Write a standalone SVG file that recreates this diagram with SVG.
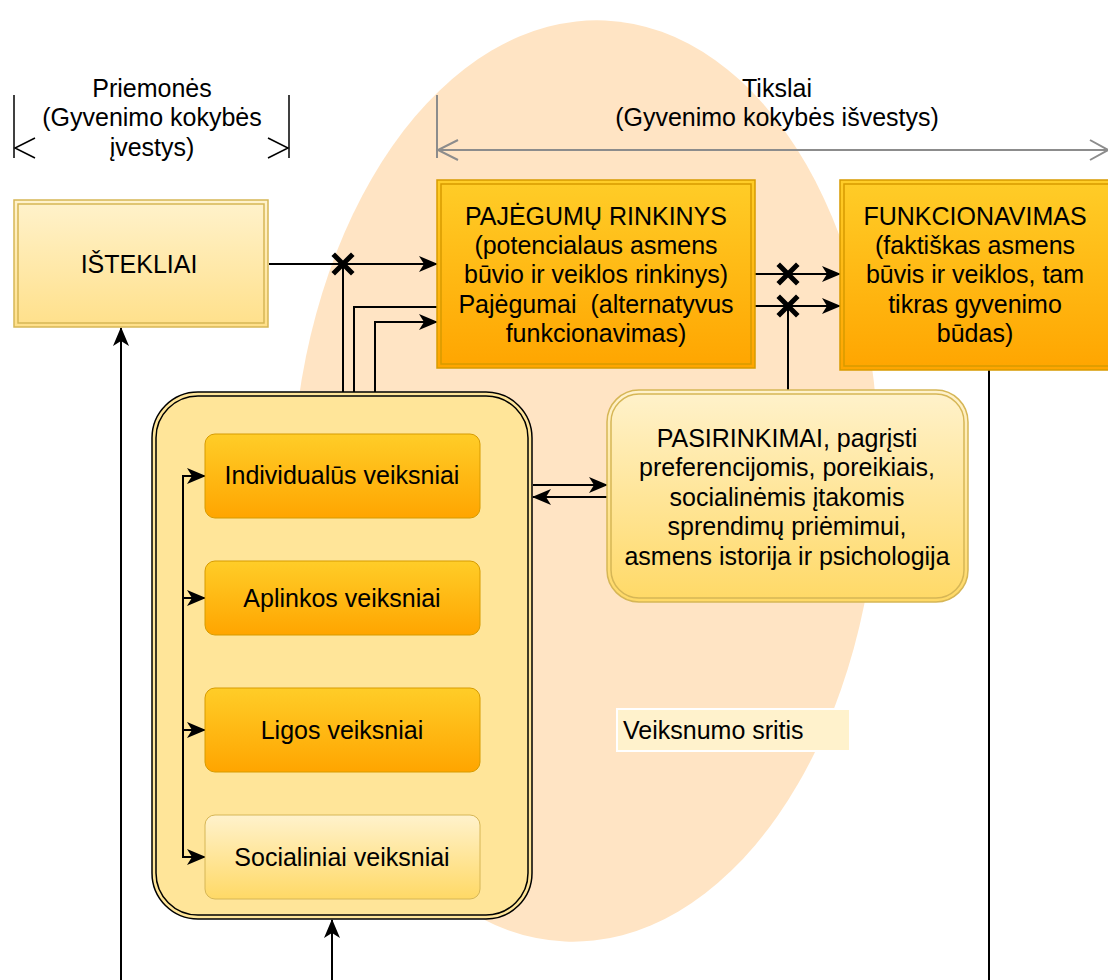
<svg xmlns="http://www.w3.org/2000/svg" width="1108" height="980" viewBox="0 0 1108 980">
<style>
text{font-family:"Liberation Sans",Arial,sans-serif;font-size:25px;fill:#000;}
.c{text-anchor:middle;}
.ln{fill:none;stroke:#000;stroke-width:2;}
.x{fill:none;stroke:#000;stroke-width:5;stroke-linecap:square;}
.gy{fill:none;stroke:#8c8c8c;stroke-width:2;}
.bk{fill:none;stroke:#000;stroke-width:1.5;}
</style>
<defs>
<linearGradient id="gOr" x1="0" y1="0" x2="0" y2="1"><stop offset="0" stop-color="#FFCD28"/><stop offset="1" stop-color="#FFA500"/></linearGradient>
<linearGradient id="gYe" x1="0" y1="0" x2="0" y2="1"><stop offset="0" stop-color="#FFF2CC"/><stop offset="1" stop-color="#FFD966"/></linearGradient>
<linearGradient id="gYe2" x1="0" y1="0" x2="0" y2="1"><stop offset="0" stop-color="#FFF2CC"/><stop offset="1" stop-color="#FFE08A"/></linearGradient>
<marker id="arr" markerUnits="userSpaceOnUse" markerWidth="20" markerHeight="16" refX="18" refY="8" orient="auto"><path d="M0,0 L19,8 L0,16 L5,8 Z" fill="#000"/></marker>
</defs>
<rect width="1108" height="980" fill="#fff"/>
<g id="area">
<ellipse cx="585" cy="481" rx="293" ry="461" fill="#FFE4C4" transform="rotate(2.5 585 481)"/>
</g>
<g id="dim-means">
<line x1="14" y1="95" x2="14" y2="158" class="bk"/>
<line x1="289" y1="95" x2="289" y2="158" class="bk"/>
<path d="M35,138 L15,148 L35,158" class="bk"/>
<path d="M268,138 L288,148 L268,158" class="bk"/>
<text x="152" y="97" class="c">Priemonės</text>
<text x="152" y="126" class="c">(Gyvenimo kokybės</text>
<text x="152" y="156" class="c">įvestys)</text>
</g>
<g id="dim-goals">
<line x1="437" y1="95" x2="437" y2="158" class="gy"/>
<line x1="437" y1="150" x2="1108" y2="150" class="gy"/>
<path d="M458,140 L438,150 L458,160" class="gy"/>
<path d="M1090,140 L1108,150 L1090,160" class="gy"/>
<text x="777" y="97" class="c">Tikslai</text>
<text x="777" y="126" class="c">(Gyvenimo kokybės išvestys)</text>
</g>
<g id="connectors">
<line x1="269" y1="264" x2="437" y2="264" class="ln" marker-end="url(#arr)"/>
<line x1="343" y1="392" x2="343" y2="264" class="ln"/>
<polyline points="354,392 354,307 437,307" class="ln"/>
<polyline points="375,392 375,322 437,322" class="ln" marker-end="url(#arr)"/>
<line x1="755" y1="274" x2="840" y2="274" class="ln" marker-end="url(#arr)"/>
<line x1="755" y1="306" x2="840" y2="306" class="ln" marker-end="url(#arr)"/>
<line x1="788" y1="390" x2="788" y2="306" class="ln"/>
<line x1="533" y1="485" x2="607" y2="485" class="ln" marker-end="url(#arr)"/>
<line x1="607" y1="497" x2="533" y2="497" class="ln" marker-end="url(#arr)"/>
<line x1="121" y1="980" x2="121" y2="328" class="ln" marker-end="url(#arr)"/>
<line x1="332" y1="980" x2="332" y2="920" class="ln" marker-end="url(#arr)"/>
<line x1="989" y1="370" x2="989" y2="980" class="ln"/>
<path d="M335,256 L351,272 M351,256 L335,272" class="x"/>
<path d="M780,266 L796,282 M796,266 L780,282" class="x"/>
<path d="M780,298 L796,314 M796,298 L780,314" class="x"/>
</g>
<g id="isteklai">
<rect x="14" y="200" width="254" height="127" fill="url(#gYe2)" stroke="#D6B656" stroke-width="1.5"/>
<rect x="18" y="204" width="246" height="119" fill="none" stroke="#D6B656" stroke-width="1.5"/>
<text x="139" y="273" class="c">IŠTEKLIAI</text>
</g>
<g id="pajegumai">
<rect x="437" y="180" width="318" height="188" fill="url(#gOr)" stroke="#D79B00" stroke-width="1.5"/>
<rect x="441" y="184" width="310" height="180" fill="none" stroke="#D79B00" stroke-width="1.5"/>
<text x="596" y="225" class="c">PAJĖGUMŲ RINKINYS</text>
<text x="596" y="254" class="c">(potencialaus asmens</text>
<text x="596" y="283" class="c">būvio ir veiklos rinkinys)</text>
<text x="596" y="313" class="c" xml:space="preserve">Pajėgumai  (alternatyvus</text>
<text x="596" y="342" class="c">funkcionavimas)</text>
</g>
<g id="funkcionavimas">
<rect x="840" y="180" width="272" height="190" fill="url(#gOr)" stroke="#D79B00" stroke-width="1.5"/>
<rect x="844" y="184" width="268" height="182" fill="none" stroke="#D79B00" stroke-width="1.5"/>
<text x="975" y="225" class="c">FUNKCIONAVIMAS</text>
<text x="975" y="254" class="c">(faktiškas asmens</text>
<text x="975" y="283" class="c">būvis ir veiklos, tam</text>
<text x="975" y="313" class="c">tikras gyvenimo</text>
<text x="975" y="342" class="c">būdas)</text>
</g>
<g id="veiksniai">
<rect x="152" y="392" width="380" height="527" rx="46" fill="#FFE599" stroke="#000" stroke-width="1.5"/>
<rect x="156" y="396" width="372" height="519" rx="42" fill="none" stroke="#000" stroke-width="1.5"/>
<polyline points="183,857 183,476" class="ln"/>
<line x1="182" y1="476" x2="205" y2="476" class="ln" marker-end="url(#arr)"/>
<line x1="182" y1="598" x2="205" y2="598" class="ln" marker-end="url(#arr)"/>
<line x1="182" y1="730" x2="205" y2="730" class="ln" marker-end="url(#arr)"/>
<line x1="182" y1="857" x2="205" y2="857" class="ln" marker-end="url(#arr)"/>
</g>
<g id="individualus">
<rect x="205" y="434" width="275" height="84" rx="10" fill="url(#gOr)" stroke="#D79B00" stroke-width="1"/>
<text x="342" y="484" class="c">Individualūs veiksniai</text>
</g>
<g id="aplinkos">
<rect x="205" y="561" width="275" height="74" rx="10" fill="url(#gOr)" stroke="#D79B00" stroke-width="1"/>
<text x="342" y="607" class="c">Aplinkos veiksniai</text>
</g>
<g id="ligos">
<rect x="205" y="688" width="275" height="84" rx="10" fill="url(#gOr)" stroke="#D79B00" stroke-width="1"/>
<text x="342" y="739" class="c">Ligos veiksniai</text>
</g>
<g id="socialiniai">
<rect x="205" y="815" width="275" height="84" rx="10" fill="url(#gYe)" stroke="#D6B656" stroke-width="1"/>
<text x="342" y="866" class="c">Socialiniai veiksniai</text>
</g>
<g id="pasirinkimai">
<rect x="607" y="390" width="361" height="212" rx="32" fill="url(#gYe)" stroke="#D6B656" stroke-width="1.5"/>
<rect x="611" y="394" width="353" height="204" rx="28" fill="none" stroke="#D6B656" stroke-width="1.5"/>
<text x="787" y="447" class="c">PASIRINKIMAI, pagrįsti</text>
<text x="787" y="476" class="c">preferencijomis, poreikiais,</text>
<text x="787" y="506" class="c">socialinėmis įtakomis</text>
<text x="787" y="535" class="c">sprendimų priėmimui,</text>
<text x="787" y="565" class="c">asmens istorija ir psichologija</text>
</g>
<g id="veiksnumo-sritis">
<rect x="617" y="709" width="233" height="42" fill="#FFF2CC" stroke="#fff" stroke-width="2"/>
<text x="623" y="739">Veiksnumo sritis</text>
</g>
</svg>
